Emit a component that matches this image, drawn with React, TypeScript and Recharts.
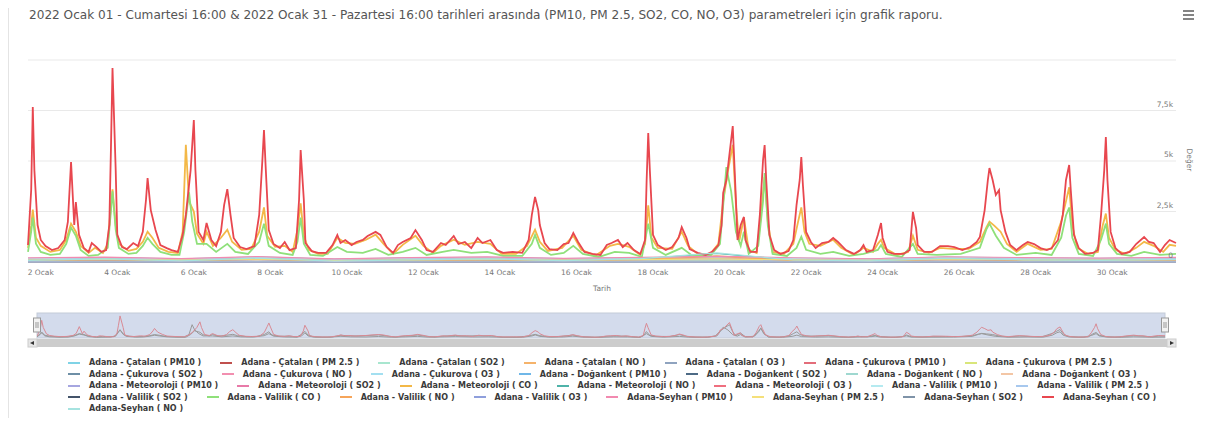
import { CartesianGrid, Line, LineChart, XAxis, YAxis } from 'recharts';

const FONT = '"DejaVu Sans", "Open Sans", sans-serif';

// x values are hours counted from 2022-01-01 16:00
const dayTickHours = [8, 56, 104, 152, 200, 248, 296, 344, 392, 440, 488, 536, 584, 632, 680];
const dayTickLabels = [
    '2 Ocak', '4 Ocak', '6 Ocak', '8 Ocak', '10 Ocak', '12 Ocak', '14 Ocak', '16 Ocak',
    '18 Ocak', '20 Ocak', '22 Ocak', '24 Ocak', '26 Ocak', '28 Ocak', '30 Ocak',
];
const valueTicks = [0, 2500, 5000, 7500, 10000];
const valueTickLabels = ['0', '2,5k', '5k', '7,5k', ''];

const seyhanCOHours = [
    0, 2, 3, 4, 6, 8, 11, 15, 19, 23, 25, 27, 29, 30, 32, 35, 38, 40, 43, 46, 49, 51, 52, 53, 55, 56, 59, 62,
    66, 69, 72, 74, 75, 77, 80, 83, 87, 90, 94, 97, 99, 102, 104, 105, 107, 110, 112, 115, 118, 121, 123, 125,
    127, 129, 133, 137, 142, 145, 147, 148, 149, 151, 154, 158, 161, 164, 168, 170, 171, 173, 174, 178, 182,
    187, 191, 194, 196, 199, 203, 206, 210, 213, 218, 221, 225, 229, 232, 235, 240, 243, 247, 250, 254, 259,
    262, 267, 270, 274, 278, 282, 285, 290, 294, 298, 304, 310, 314, 316, 318, 320, 321, 324, 327, 332, 336,
    339, 342, 345, 349, 354, 359, 363, 366, 370, 373, 376, 380, 384, 387, 388, 389, 390, 392, 395, 400, 404,
    408, 410, 413, 415, 420, 425, 429, 433, 435, 436, 438, 439, 442, 444, 445, 447, 449, 450, 453, 457, 459,
    461, 462, 463, 465, 468, 472, 477, 480, 482, 484, 485, 486, 488, 491, 494, 498, 502, 505, 508, 513, 518,
    522, 524, 526, 530, 533, 535, 536, 539, 543, 549, 553, 555, 557, 558, 562, 567, 572, 577, 581, 586, 591,
    595, 597, 600, 602, 603, 605, 607, 609, 610, 613, 616, 620, 624, 627, 631, 635, 639, 642, 646, 649, 651,
    653, 654, 656, 659, 663, 668, 671, 673, 675, 676, 677, 679, 682, 686, 691, 695, 700, 703, 706, 710, 713,
    716, 720,
];
const seyhanCOValues = [
    840, 3560, 7670, 4550, 1830, 1090, 790, 590, 690, 1090, 1980, 4950, 1830, 2970, 1340, 690, 500, 940, 740,
    500, 590, 1830, 5540, 9600, 4550, 1340, 740, 640, 940, 790, 1490, 3070, 4160, 2570, 1580, 840, 690, 590,
    500, 1340, 2330, 4550, 7030, 4550, 1490, 1090, 1930, 1090, 790, 1490, 2820, 3610, 2330, 1190, 740, 640,
    790, 2330, 5050, 6530, 4800, 1580, 890, 690, 990, 590, 690, 3070, 5540, 3070, 940, 540, 450, 450, 840,
    1340, 940, 1090, 840, 990, 1090, 1290, 1490, 1340, 740, 450, 840, 990, 1190, 1580, 1090, 590, 500, 940,
    840, 1290, 890, 990, 690, 1190, 940, 1090, 590, 450, 500, 450, 1090, 2330, 3220, 2570, 1830, 940, 640,
    590, 890, 940, 1440, 990, 500, 400, 350, 840, 940, 1090, 740, 940, 590, 400, 1090, 4060, 6390, 4550,
    1340, 840, 590, 740, 1190, 1730, 1190, 640, 450, 350, 500, 840, 1830, 3420, 4060, 4700, 6730, 3070, 1090,
    1830, 2230, 1090, 500, 500, 2330, 5050, 5790, 4060, 1340, 590, 400, 540, 1090, 2820, 4060, 5200, 3810,
    1490, 990, 690, 940, 990, 1190, 990, 590, 400, 590, 840, 500, 590, 1340, 1930, 1190, 500, 400, 400, 590,
    2480, 1680, 840, 500, 500, 790, 790, 740, 590, 740, 990, 1240, 2570, 4060, 4650, 4060, 3320, 3560, 2570,
    1490, 840, 590, 840, 990, 890, 690, 590, 690, 1090, 2330, 4060, 4800, 3560, 1340, 690, 400, 450, 590,
    2330, 4550, 6190, 4060, 1490, 690, 400, 500, 890, 1240, 990, 940, 500, 840, 1090, 940,
];

const meteoCOHours = [
    0, 2, 3, 5, 8, 14, 20, 24, 27, 30, 33, 38, 42, 47, 50, 52, 53, 55, 57, 63, 68, 72, 75, 78, 82, 88, 94, 97,
    99, 101, 104, 106, 110, 112, 116, 121, 125, 128, 134, 140, 145, 148, 150, 155, 161, 166, 169, 171, 173,
    176, 182, 188, 194, 199, 205, 212, 218, 223, 229, 235, 243, 248, 254, 259, 267, 274, 282, 290, 297, 306,
    313, 318, 321, 326, 335, 342, 347, 356, 365, 370, 377, 384, 387, 389, 391, 395, 404, 410, 414, 420, 428,
    433, 436, 439, 442, 444, 446, 449, 452, 457, 459, 462, 464, 467, 474, 480, 483, 485, 487, 490, 497, 505,
    510, 518, 524, 530, 533, 535, 537, 545, 552, 555, 558, 565, 572, 580, 590, 597, 601, 603, 606, 610, 614,
    620, 627, 635, 642, 648, 651, 653, 655, 658, 665, 671, 674, 676, 678, 682, 688, 695, 700, 706, 712, 716,
    720,
];
const meteoCOValues = [
    700, 1800, 2600, 1200, 800, 500, 600, 1100, 1900, 1500, 800, 450, 700, 450, 900, 2800, 3600, 1800, 900,
    550, 650, 1000, 1500, 1200, 700, 500, 450, 1500, 5800, 3000, 2500, 1400, 900, 1500, 800, 1200, 1600, 1000,
    600, 650, 1500, 2700, 1300, 750, 800, 500, 1600, 2900, 1300, 600, 400, 400, 1200, 950, 900, 1100, 1350,
    900, 400, 850, 1300, 800, 450, 800, 1100, 850, 1000, 900, 400, 400, 800, 1600, 1000, 550, 700, 1300, 600,
    320, 800, 900, 750, 350, 900, 2800, 1200, 700, 650, 1500, 800, 400, 400, 900, 3000, 4500, 5800, 2800,
    1000, 2200, 600, 450, 1800, 4200, 2000, 500, 400, 900, 2000, 2700, 1500, 900, 800, 1100, 700, 350, 700,
    500, 900, 1100, 700, 350, 500, 1300, 600, 450, 700, 650, 650, 1000, 1700, 2000, 1800, 1500, 900, 500, 900,
    600, 650, 2000, 3000, 3700, 1800, 700, 400, 500, 1800, 2400, 1200, 600, 400, 700, 1000, 800, 500, 850, 800,
];

const valilikCOHours = [
    0, 2, 3, 5, 8, 14, 20, 24, 27, 30, 33, 38, 44, 50, 52, 53, 55, 57, 63, 68, 72, 75, 78, 83, 90, 95, 98, 101,
    103, 106, 112, 118, 125, 130, 138, 145, 148, 151, 158, 166, 169, 171, 173, 177, 185, 194, 200, 210, 218,
    226, 235, 243, 250, 260, 267, 278, 288, 298, 310, 316, 318, 321, 328, 336, 342, 348, 358, 368, 377, 385,
    389, 392, 400, 410, 416, 428, 434, 438, 441, 444, 447, 449, 452, 458, 461, 462, 464, 467, 476, 482, 485,
    488, 497, 505, 515, 524, 533, 535, 538, 548, 555, 558, 570, 585, 597, 601, 603, 607, 612, 620, 632, 642,
    648, 651, 653, 655, 659, 668, 673, 676, 678, 683, 692, 700, 710, 720,
];
const valilikCOValues = [
    500, 1500, 2200, 900, 500, 350, 400, 900, 1700, 1300, 600, 300, 350, 700, 2500, 3500, 1600, 700, 400, 450,
    800, 1200, 900, 500, 350, 350, 1500, 3450, 2000, 900, 900, 500, 900, 500, 400, 1000, 1900, 800, 450, 350,
    1000, 2200, 900, 350, 300, 740, 500, 450, 650, 350, 500, 700, 350, 500, 600, 450, 500, 300, 300, 900,
    1340, 700, 350, 450, 800, 400, 250, 500, 450, 250, 1900, 700, 350, 700, 350, 300, 900, 4700, 3500, 1500,
    800, 1500, 400, 800, 3000, 4400, 1800, 400, 300, 700, 1250, 600, 400, 500, 300, 400, 600, 840, 400, 250,
    900, 400, 350, 400, 700, 1600, 1900, 1300, 700, 350, 450, 350, 1200, 2300, 2700, 1200, 400, 300, 1100,
    1900, 900, 400, 300, 500, 350, 400,
];

// the small pollutants, read every 48 hours
const coarseHours = [0, 48, 96, 144, 192, 240, 288, 336, 384, 432, 480, 528, 576, 624, 672, 720];
const catalanPM10 = [180, 220, 160, 250, 140, 200, 230, 170, 210, 260, 190, 150, 240, 200, 180, 210];
const catalanPM25 = [90, 120, 80, 130, 70, 100, 120, 85, 110, 140, 95, 75, 125, 100, 90, 105];
const catalanSO2 = [8, 10, 7, 12, 6, 9, 11, 8, 10, 13, 9, 7, 12, 10, 8, 9];
const catalanNO = [60, 120, 40, 150, 30, 90, 110, 50, 130, 300, 80, 40, 140, 90, 60, 100];
const catalanO3 = [30, 25, 40, 20, 45, 35, 25, 40, 30, 20, 35, 45, 25, 30, 40, 30];
const cukurovaPM10 = [150, 190, 130, 210, 120, 170, 200, 140, 180, 230, 160, 130, 200, 170, 150, 180];
const cukurovaPM25 = [80, 100, 70, 115, 60, 90, 105, 75, 95, 125, 85, 65, 110, 90, 80, 95];
const cukurovaSO2 = [6, 8, 5, 9, 5, 7, 8, 6, 8, 10, 7, 5, 9, 7, 6, 7];
const cukurovaNO = [40, 90, 30, 110, 25, 70, 90, 40, 100, 220, 60, 30, 110, 70, 50, 80];
const cukurovaO3 = [35, 30, 45, 25, 50, 40, 30, 45, 35, 25, 40, 50, 30, 35, 45, 35];
const dogankentPM10 = [90, 110, 80, 130, 70, 100, 120, 85, 110, 140, 95, 80, 125, 100, 90, 105];
const dogankentSO2 = [4, 5, 4, 6, 3, 5, 6, 4, 5, 7, 5, 4, 6, 5, 4, 5];
const dogankentNO = [20, 40, 15, 50, 12, 30, 40, 20, 45, 90, 30, 15, 50, 30, 25, 35];
const dogankentO3 = [45, 40, 55, 35, 60, 50, 40, 55, 45, 35, 50, 60, 40, 45, 55, 45];
const meteoPM10 = [160, 200, 140, 230, 130, 180, 210, 150, 190, 250, 170, 140, 220, 180, 160, 190];
const meteoSO2 = [10, 12, 9, 14, 8, 11, 13, 10, 12, 15, 11, 9, 14, 12, 10, 11];
const meteoNO = [70, 140, 50, 170, 40, 100, 130, 60, 150, 420, 90, 50, 160, 100, 70, 120];
const meteoO3 = [25, 20, 35, 18, 40, 30, 20, 35, 25, 18, 30, 40, 20, 25, 35, 25];
const valilikPM10 = [170, 210, 150, 240, 135, 190, 220, 160, 200, 255, 180, 145, 230, 190, 170, 200];
const valilikPM25 = [85, 110, 75, 125, 65, 95, 115, 80, 105, 135, 90, 70, 120, 95, 85, 100];
const valilikSO2 = [7, 9, 6, 10, 5, 8, 10, 7, 9, 11, 8, 6, 10, 8, 7, 8];
const valilikNO = [55, 110, 40, 140, 30, 80, 100, 45, 120, 280, 70, 35, 130, 80, 55, 90];
const valilikO3 = [30, 28, 42, 22, 48, 36, 26, 42, 32, 22, 36, 46, 26, 32, 42, 32];
const seyhanPM10 = [200, 240, 170, 270, 150, 220, 250, 180, 230, 280, 210, 160, 260, 220, 190, 230];
const seyhanPM25 = [100, 130, 90, 145, 75, 110, 130, 95, 120, 150, 105, 80, 135, 110, 95, 115];
const seyhanSO2 = [9, 11, 8, 13, 7, 10, 12, 9, 11, 14, 10, 8, 13, 11, 9, 10];
const seyhanNO = [80, 150, 60, 190, 45, 110, 150, 70, 170, 450, 100, 55, 180, 110, 80, 130];

type Series = { name: string; color: string; hours: number[]; values: number[]; main?: boolean };

const seriesList: Series[] = [
    { name: 'Adana - Çatalan ( PM10 )', color: '#7fd3e6', hours: coarseHours, values: catalanPM10 },
    { name: 'Adana - Çatalan ( PM 2.5 )', color: '#c0504d', hours: coarseHours, values: catalanPM25 },
    { name: 'Adana - Çatalan ( SO2 )', color: '#a8e6cf', hours: coarseHours, values: catalanSO2 },
    { name: 'Adana - Çatalan ( NO )', color: '#f5b36b', hours: coarseHours, values: catalanNO },
    { name: 'Adana - Çatalan ( O3 )', color: '#8fa3bf', hours: coarseHours, values: catalanO3 },
    { name: 'Adana - Çukurova ( PM10 )', color: '#e36d7a', hours: coarseHours, values: cukurovaPM10 },
    { name: 'Adana - Çukurova ( PM 2.5 )', color: '#d9e67a', hours: coarseHours, values: cukurovaPM25 },
    { name: 'Adana - Çukurova ( SO2 )', color: '#6e8fa6', hours: coarseHours, values: cukurovaSO2 },
    { name: 'Adana - Çukurova ( NO )', color: '#f28fb0', hours: coarseHours, values: cukurovaNO },
    { name: 'Adana - Çukurova ( O3 )', color: '#a3dff0', hours: coarseHours, values: cukurovaO3 },
    { name: 'Adana - Doğankent ( PM10 )', color: '#6fb7e8', hours: coarseHours, values: dogankentPM10 },
    { name: 'Adana - Doğankent ( SO2 )', color: '#4d6a85', hours: coarseHours, values: dogankentSO2 },
    { name: 'Adana - Doğankent ( NO )', color: '#9fd8d0', hours: coarseHours, values: dogankentNO },
    { name: 'Adana - Doğankent ( O3 )', color: '#f3c6a5', hours: coarseHours, values: dogankentO3 },
    { name: 'Adana - Meteoroloji ( PM10 )', color: '#a6a6e0', hours: coarseHours, values: meteoPM10 },
    { name: 'Adana - Meteoroloji ( SO2 )', color: '#e87aa8', hours: coarseHours, values: meteoSO2 },
    { name: 'Adana - Meteoroloji ( CO )', color: '#f3b847', hours: meteoCOHours, values: meteoCOValues, main: true },
    { name: 'Adana - Meteoroloji ( NO )', color: '#4fb3a9', hours: coarseHours, values: meteoNO },
    { name: 'Adana - Meteoroloji ( O3 )', color: '#ef6f7f', hours: coarseHours, values: meteoO3 },
    { name: 'Adana - Valilik ( PM10 )', color: '#b5eaf0', hours: coarseHours, values: valilikPM10 },
    { name: 'Adana - Valilik ( PM 2.5 )', color: '#a7c8ee', hours: coarseHours, values: valilikPM25 },
    { name: 'Adana - Valilik ( SO2 )', color: '#44546a', hours: coarseHours, values: valilikSO2 },
    { name: 'Adana - Valilik ( CO )', color: '#8fe07a', hours: valilikCOHours, values: valilikCOValues, main: true },
    { name: 'Adana - Valilik ( NO )', color: '#f6a55a', hours: coarseHours, values: valilikNO },
    { name: 'Adana - Valilik ( O3 )', color: '#8f9fdc', hours: coarseHours, values: valilikO3 },
    { name: 'Adana-Seyhan ( PM10 )', color: '#f28ab0', hours: coarseHours, values: seyhanPM10 },
    { name: 'Adana-Seyhan ( PM 2.5 )', color: '#f5e07a', hours: coarseHours, values: seyhanPM25 },
    { name: 'Adana-Seyhan ( SO2 )', color: '#7f93a8', hours: coarseHours, values: seyhanSO2 },
    { name: 'Adana-Seyhan ( CO )', color: '#e8474f', hours: seyhanCOHours, values: seyhanCOValues, main: true },
    { name: 'Adana-Seyhan ( NO )', color: '#a6e3e0', hours: coarseHours, values: seyhanNO },
];

const legendRows = [
    seriesList.slice(0, 7),
    seriesList.slice(7, 14),
    seriesList.slice(14, 21),
    seriesList.slice(21, 29),
    seriesList.slice(29),
];

const toPoints = (hours: number[], values: number[]) => hours.map((h, i) => ({ h, v: values[i] }));

function ValueTick({ y, payload }: any) {
    const idx = valueTicks.indexOf(payload.value);
    return (
        <text x={1173} y={y - 4} textAnchor="end" fontSize={7.5} fill="#777" fontFamily={FONT}>
            {valueTickLabels[idx]}
        </text>
    );
}

export default function App() {
    const navSeries = [seriesList[16], seriesList[22], seriesList[28]];
    return (
        <div style={{ position: 'relative', width: 1218, height: 430, margin: '-8px 0 0 -8px', background: '#fff', fontFamily: FONT, overflow: 'hidden' }}>
            <div style={{ position: 'absolute', left: 8, top: 0, width: 1, height: 418, background: '#e4e4e4' }} />

            <div style={{ position: 'absolute', left: 0, top: 0 }}>
                <LineChart width={1218} height={300} margin={{ top: 60, right: 0, bottom: 18, left: 28 }}>
                    <CartesianGrid vertical={false} stroke="#e9e9e9" />
                    <XAxis
                        type="number"
                        dataKey="h"
                        domain={[0, 720]}
                        ticks={dayTickHours}
                        tickFormatter={(h) => dayTickLabels[dayTickHours.indexOf(h)]}
                        height={20}
                        axisLine={{ stroke: '#ccd6eb' }}
                        tickLine={false}
                        tick={{ fontSize: 7.5, fill: '#777', fontFamily: FONT }}
                    />
                    <YAxis
                        orientation="right"
                        width={42}
                        domain={[0, 10000]}
                        ticks={valueTicks}
                        axisLine={false}
                        tickLine={false}
                        tick={<ValueTick />}
                    />
                    {seriesList.map((s) => (
                        <Line
                            key={s.name}
                            data={toPoints(s.hours, s.values)}
                            dataKey="v"
                            type="linear"
                            stroke={s.color}
                            strokeWidth={s.main ? 1.8 : 1.2}
                            dot={false}
                            activeDot={false}
                            isAnimationActive={false}
                        />
                    ))}
                </LineChart>
            </div>

            <svg width={1218} height={430} style={{ position: 'absolute', left: 0, top: 0, pointerEvents: 'none' }}>
                <text x={29} y={19} fontSize={12.1} fill="#555" fontFamily={FONT}>
                    2022 Ocak 01 - Cumartesi 16:00 &amp; 2022 Ocak 31 - Pazartesi 16:00 tarihleri arasında (PM10, PM 2.5, SO2, CO, NO, O3) parametreleri için grafik raporu.
                </text>
                <g stroke="#666" strokeWidth={1.6}>
                    <line x1={1183} x2={1194} y1={11} y2={11} />
                    <line x1={1183} x2={1194} y1={15} y2={15} />
                    <line x1={1183} x2={1194} y1={19} y2={19} />
                </g>
                <text x={1187} y={160} fontSize={7.5} fill="#777" textAnchor="middle" transform="rotate(90 1187 160)" fontFamily={FONT}>
                    Değer
                </text>
                <text x={602} y={291} fontSize={7.5} fill="#777" textAnchor="middle" fontFamily={FONT}>
                    Tarih
                </text>
                <rect x={37} y={313} width={1128} height={25} fill="#d3dbec" stroke="#c4cbd8" />
                <rect x={28} y={339} width={1148} height={8} fill="#f2f2f2" />
                <rect x={37} y={339} width={1130} height={8} fill="#cccccc" />
                <rect x={28} y={339} width={9} height={8} fill="#e6e6e6" stroke="#ccc" />
                <path d="M34 341 L30 343 L34 345 Z" fill="#333" />
                <rect x={1167} y={339} width={9} height={8} fill="#e6e6e6" stroke="#ccc" />
                <path d="M1170 341 L1174 343 L1170 345 Z" fill="#333" />
            </svg>

            <div style={{ position: 'absolute', left: 37, top: 314 }}>
                <LineChart width={1128} height={24} margin={{ top: 1, right: 0, bottom: 0, left: 0 }}>
                    <XAxis type="number" dataKey="h" domain={[0, 720]} hide />
                    <YAxis domain={[0, 10000]} hide />
                    {navSeries.map((s) => (
                        <Line
                            key={s.name}
                            data={toPoints(s.hours, s.values)}
                            dataKey="v"
                            type="linear"
                            stroke={s.color === '#e8474f' ? '#d98a94' : '#9a9a9a'}
                            strokeWidth={1}
                            dot={false}
                            activeDot={false}
                            isAnimationActive={false}
                        />
                    ))}
                </LineChart>
            </div>

            <svg width={1218} height={430} style={{ position: 'absolute', left: 0, top: 0, pointerEvents: 'none' }}>
                {[37, 1165].map((hx) => (
                    <g key={hx}>
                        <rect x={hx - 3.5} y={318} width={7} height={14} fill="#f2f2f2" stroke="#999" />
                        <line x1={hx - 1} x2={hx - 1} y1={322} y2={328} stroke="#999" />
                        <line x1={hx + 1} x2={hx + 1} y1={322} y2={328} stroke="#999" />
                    </g>
                ))}
            </svg>

            <div style={{ position: 'absolute', left: 68, top: 357, fontSize: 8, fontWeight: 700, color: '#3a3a3a' }}>
                {legendRows.map((row, ri) => (
                    <div key={ri} style={{ display: 'flex', gap: 19, height: 11.5, alignItems: 'center', whiteSpace: 'nowrap' }}>
                        {row.map((s) => (
                            <div key={s.name} style={{ display: 'flex', alignItems: 'center' }}>
                                <span style={{ display: 'inline-block', width: 12, height: 2, background: s.color, marginRight: 9 }} />
                                <span>{s.name}</span>
                            </div>
                        ))}
                    </div>
                ))}
            </div>
        </div>
    );
}
